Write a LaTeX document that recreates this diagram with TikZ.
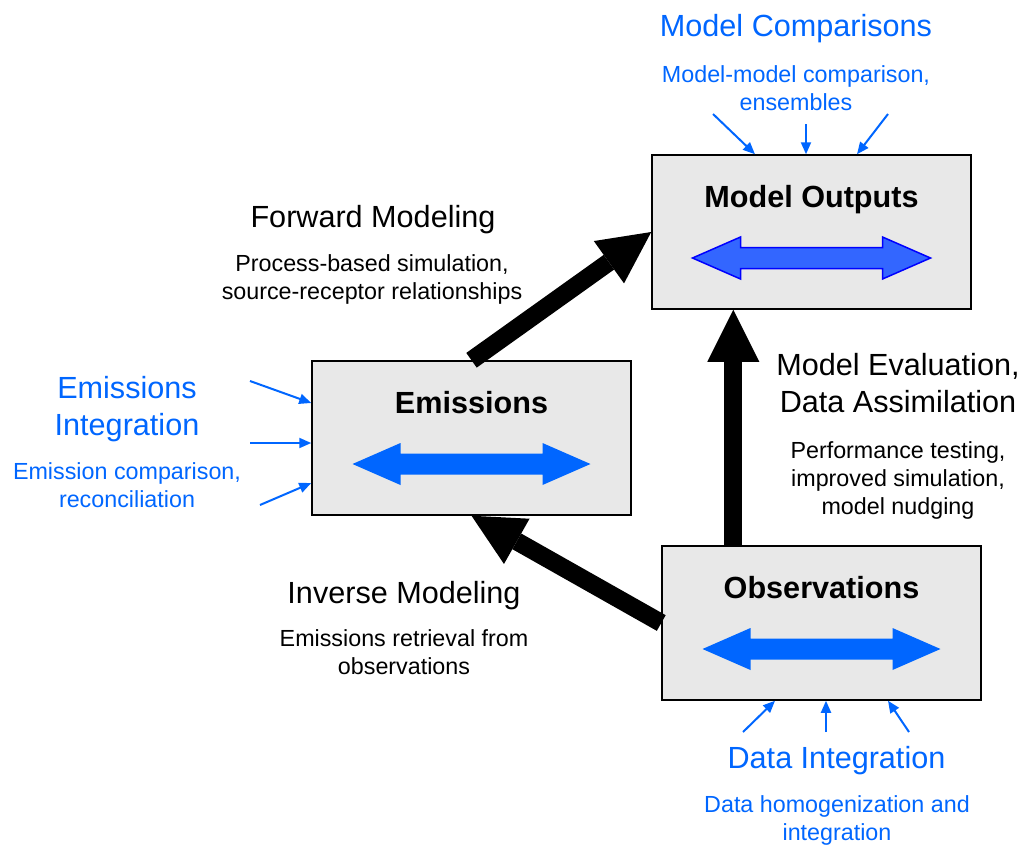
\documentclass[tikz,border=0pt]{standalone}
\usepackage{fontspec}
\setmainfont{Liberation Sans}
\usepackage{xcolor}
\usepackage{tikz}
\usetikzlibrary{arrows.meta,calc}

\definecolor{boxgray}{HTML}{E8E8E8}
\definecolor{textblue}{HTML}{0066FF}
\definecolor{dblfill}{HTML}{3366FF}
\definecolor{dbledge}{HTML}{0000FF}
\newcommand{\bigtext}{\fontsize{30.6pt}{37pt}\selectfont}
\newcommand{\smalltext}{\fontsize{23.3pt}{28pt}\selectfont}

\begin{document}
\begin{tikzpicture}[
			x=1pt, y=-1pt,
			stage/.style={rectangle, draw, line width=1.5pt, fill=boxgray, minimum width=319pt, minimum height=154pt, inner sep=0pt},
			title/.style={font=\bigtext\bfseries, anchor=base, inner sep=0pt},
			head/.style={font=\bigtext, align=center, anchor=base, inner sep=0pt},
			note/.style={font=\smalltext, align=center, anchor=base, inner sep=0pt},
			flow/.style={draw, line width=18pt, -{Triangle[length=52pt, width=52pt, line width=0pt]}},
			feed/.style={draw=textblue, line width=2pt, -{Triangle[length=12pt, width=10pt]}},
			dblarrow/.pic={\path[pic actions] (-119,0) -- (-71,-21) -- (-71,-10.5) -- (71,-10.5) -- (71,-21) -- (119,0) -- (71,21) -- (71,10.5) -- (-71,10.5) -- (-71,21) -- cycle;}
			]
			\useasboundingbox (0,0) rectangle (1023,844);
			% Bloques
			\node [stage] (mo) at (811.5,232) {};
			\node [stage] (emis) at (471.5,438) {};
			\node [stage] (obs) at (821.5,623) {};
			\node [title] (molabel) at ($(mo.center)+(0,-25)$) {Model Outputs};
			\node [title] (emislabel) at ($(emis.center)+(0,-25)$) {Emissions};
			\node [title] (obslabel) at ($(obs.center)+(0,-25)$) {Observations};
			\pic [fill=dblfill, draw=dbledge, line width=1.5pt] at ($(mo.center)+(0,26)$) {dblarrow};
			\pic [fill=textblue] at ($(emis.center)+(0,26)$) {dblarrow};
			\pic [fill=textblue] at ($(obs.center)+(0,26)$) {dblarrow};
			
			% Textos (base = ultima linea)
			\node [head] (fwdhead) at (373,227) {Forward Modeling};
			\node [note] (fwdnote) at (372,299) {Process-based simulation,\\source-receptor relationships};
			\node [head] (invhead) at (404,603) {Inverse Modeling};
			\node [note] (invnote) at (404,674) {Emissions retrieval from\\observations};
			\node [head] (evalhead) at (898,412) {Model Evaluation,\\Data Assimilation};
			\node [note] (evalnote) at (898,514) {Performance testing,\\improved simulation,\\model nudging};
			\node [head, text=textblue] (mchead) at (796,36) {Model Comparisons};
			\node [note, text=textblue] (mcnote) at (796,110) {Model-model comparison,\\ensembles};
			\node [head, text=textblue] (eihead) at (127,435) {Emissions\\Integration};
			\node [note, text=textblue] (einote) at (127,507) {Emission comparison,\\reconciliation};
			\node [head, text=textblue] (dihead) at (836.5,768) {Data Integration};
			\node [note, text=textblue] (dinote) at (837,840) {Data homogenization and\\integration};
			
			% Conexiones
			\coordinate (evalfoot) at ($(obs.north west)+(72,0)$);
			\path [flow] (emis.north) -- (mo.west);
			\path [flow] (obs.west) -- (emis.south);
			\path [flow] (evalfoot) -- (evalfoot |- mo.south);
			
			\coordinate (mc1) at (713,114);
			\coordinate (mc2) at (806,124);
			\coordinate (mc3) at (888,114);
			\path [feed] (mc1) -- ($(mo.north)+(-56.5,0)$);
			\path [feed] (mc2) -- ($(mo.north)+(-5.5,0)$);
			\path [feed] (mc3) -- ($(mo.north)+(45.5,0)$);
			\coordinate (ei1) at (250,381);
			\coordinate (ei2) at (250,443);
			\coordinate (ei3) at (260,505);
			\path [feed] (ei1) -- ($(emis.west)+(0,-35)$);
			\path [feed] (ei2) -- ($(emis.west)+(0,5)$);
			\path [feed] (ei3) -- ($(emis.west)+(0,45)$);
			\coordinate (di1) at (743,732);
			\coordinate (di2) at (826,732);
			\coordinate (di3) at (909,732);
			\path [feed] (di1) -- ($(obs.south)+(-46.5,0)$);
			\path [feed] (di2) -- ($(obs.south)+(4.5,0)$);
			\path [feed] (di3) -- ($(obs.south)+(66.5,0)$);
		\end{tikzpicture}
\end{document}
